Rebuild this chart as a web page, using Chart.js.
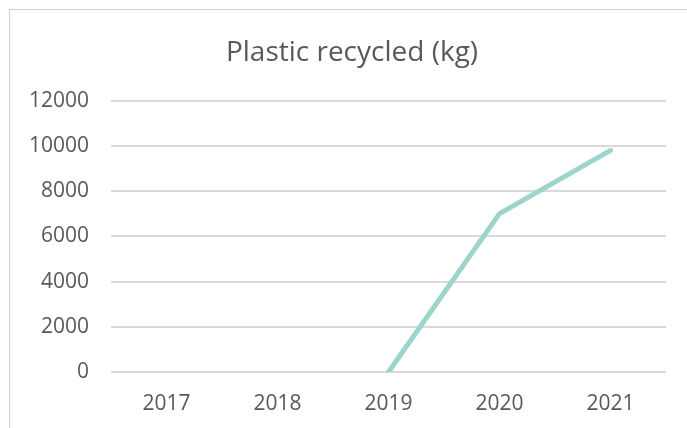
<!DOCTYPE html>
<html>
<head>
<meta charset="utf-8">
<script src="https://cdn.jsdelivr.net/npm/chart.js@4.4.1/dist/chart.umd.min.js"></script>
<style>
  html, body { margin: 0; padding: 0; background: #fff; overflow: hidden; }
  .frame { position: absolute; left: 9px; top: 9px; width: 720px; height: 440px; border: 1px solid #d0d0d0; }
  canvas { position: absolute; left: 0; top: 0; }
</style>
</head>
<body>
<div class="frame"><canvas id="plastic" width="684" height="418"></canvas></div>
<script>
// Chart data
const years = ['2017', '2018', '2019', '2020', '2021'];
const plasticKg = [null, null, 0, 7000, 9800];
const yTicks = [0, 2000, 4000, 6000, 8000, 10000, 12000];

const textColor = '#595959';
const gridColor = '#d9d9d9';
const fontFamily = '"Open Sans", "Noto Sans", sans-serif';

new Chart(document.getElementById('plastic'), {
    type: 'line',
    data: {
        labels: years,
        datasets: [{
            label: 'Plastic recycled (kg)',
            data: plasticKg,
            borderColor: '#9dd4cb',
            backgroundColor: '#9dd4cb',
            borderWidth: 5,
            borderCapStyle: 'round',
            borderJoinStyle: 'round',
            pointRadius: 0,
            tension: 0,
            yAxisID: 'y'
        }]
    },
    options: {
        responsive: false,
        animation: false,
        devicePixelRatio: 1,
        layout: {
            padding: 0
        },
        plugins: {
            legend: { display: false },
            tooltip: { enabled: false },
            title: {
                display: true,
                text: 'Plastic recycled (kg)',
                color: textColor,
                font: { family: fontFamily, size: 28, weight: 'normal' },
                padding: { top: 26, bottom: 31 }
            }
        },
        scales: {
            x: {
                offset: true,
                grid: { display: false },
                border: { display: false },
                ticks: {
                    color: textColor,
                    font: { family: fontFamily, size: 21 },
                    padding: 11
                },
                afterFit(scale) { scale.height = 56; }
            },
            y: {
                min: 0,
                max: 12000,
                grid: { color: gridColor, lineWidth: 2, drawTicks: false },
                border: { display: false },
                afterBuildTicks(scale) { scale.ticks = yTicks.map(v => ({ value: v })); },
                ticks: {
                    color: textColor,
                    font: { family: fontFamily, size: 21 },
                    padding: 22,
                    callback: value => String(value)
                },
                afterFit(scale) { scale.width = 101; }
            },
            // empty right-hand spacer so the title centres over the whole box
            spacer: {
                position: 'right',
                min: 0,
                max: 12000,
                grid: { display: false },
                border: { display: false },
                ticks: { display: false },
                afterFit(scale) { scale.width = 28; }
            }
        }
    }
});
</script>
</body>
</html>
